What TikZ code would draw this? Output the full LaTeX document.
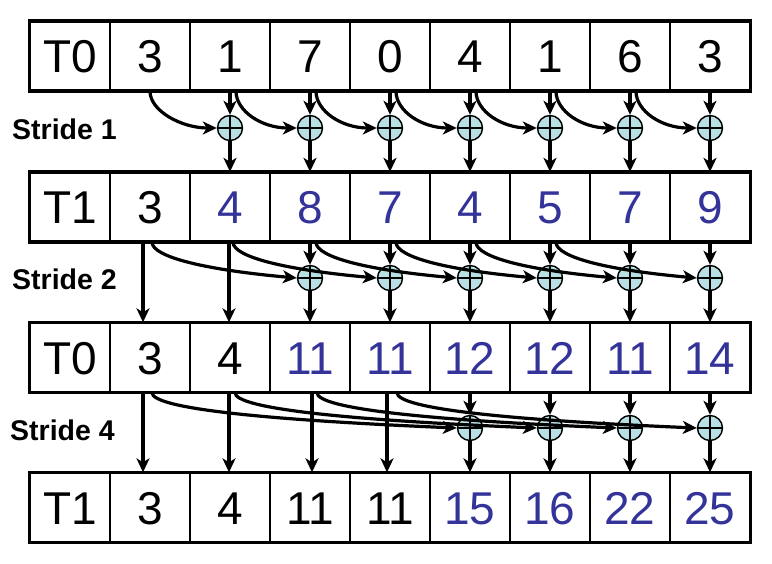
\documentclass[tikz,border=0pt]{standalone}
\usepackage{fontspec}
\setmainfont{Liberation Sans}
\usetikzlibrary{arrows.meta,calc}
\definecolor{numblue}{RGB}{51,51,153}
\definecolor{addfill}{RGB}{184,224,228}
\newcommand\bl[1]{\textcolor{numblue}{#1}}
\tikzset{
  cellbox/.style={draw, line width=1.3pt, minimum width=80pt, minimum height=69pt,
    inner sep=0pt, text height=33pt, text depth=0pt, font=\fontsize{46}{50}\selectfont},
  rowframe/.style={draw, line width=3.5pt},
  adder/.style={circle, draw, line width=1.4pt, fill=addfill, minimum size=25pt, inner sep=0pt,
    path picture={\draw[line width=1.4pt] (path picture bounding box.north) -- (path picture bounding box.south)
      (path picture bounding box.west) -- (path picture bounding box.east);}},
  arr/.style={line width=3.2pt, -{Stealth[length=14pt,width=13pt,inset=4pt]}},
  stridelabel/.style={anchor=west, inner sep=0pt, font=\bfseries\fontsize{28.5}{30}\selectfont}
}
\newcommand\cellrow[3]{%
  \foreach \v [count=\c from 0] in {#3} {
    \node[cellbox] (r#1c\c) at ({70+80*\c},#2) {\v};
  }
  \draw[rowframe] (r#1c0.north west) rectangle (r#1c8.south east);
}
\begin{document}
\begin{tikzpicture}[x=1pt,y=-1pt]
\useasboundingbox (0,0) rectangle (772,563);
% rows
\cellrow{1}{56}{T0,3,1,7,0,4,1,6,3}
\cellrow{2}{207}{T1,3,\bl{4},\bl{8},\bl{7},\bl{4},\bl{5},\bl{7},\bl{9}}
\cellrow{3}{357.5}{T0,3,4,\bl{11},\bl{11},\bl{12},\bl{12},\bl{11},\bl{14}}
\cellrow{4}{507.5}{T1,3,4,11,11,\bl{15},\bl{16},\bl{22},\bl{25}}
% labels
\node[stridelabel] (s1) at (12,129) {Stride 1};
\node[stridelabel] (s2) at (12,279) {Stride 2};
\node[stridelabel] (s4) at (10,430) {Stride 4};
% adders
\foreach \c in {2,...,8} \node[adder] (p1c\c) at ({70+80*\c},128) {};
\foreach \c in {3,...,8} \node[adder] (p2c\c) at ({70+80*\c},278) {};
\foreach \c in {5,...,8} \node[adder] (p4c\c) at ({70+80*\c},428) {};
% stride 1
\foreach \c in {2,...,8} {
  \draw[arr] (r1c\c.south) -- (p1c\c.north);
  \draw[arr] (p1c\c.south) -- (r2c\c.north);
}
\foreach \c/\dx [evaluate=\c as \n using int(\c+1)] in {1/0,2/6,3/6,4/6,5/6,6/6,7/6}
  \draw[arr] ([xshift=\dx pt]r1c\c.south) .. controls +(0,20) and +(-35,0) .. (p1c\n.west);
% stride 2
\foreach \c/\dx in {1/-7,2/-1}
  \draw[arr] ([xshift=\dx pt]r2c\c.south) -- ([xshift=\dx pt]r3c\c.north);
\foreach \c in {3,...,8} {
  \draw[arr] (r2c\c.south) -- (p2c\c.north);
  \draw[arr] (p2c\c.south) -- (r3c\c.north);
}
\foreach \c/\dx [evaluate=\c as \n using int(\c+2)] in {1/2,2/3,3/6,4/6,5/6,6/6}
  \draw[arr] ([xshift=\dx pt]r2c\c.south) .. controls +(0,15) and +(-90,-8) .. (p2c\n.west);
% stride 4
\foreach \c/\dx in {1/-7,2/-1,3/2,4/-3}
  \draw[arr] ([xshift=\dx pt]r3c\c.south) -- ([xshift=\dx pt]r4c\c.north);
\foreach \c in {5,...,8} {
  \draw[arr] (r3c\c.south) -- (p4c\c.north);
  \draw[arr] (p4c\c.south) -- (r4c\c.north);
}
\foreach \c/\dx [evaluate=\c as \n using int(\c+4)] in {1/2,2/5,3/7,4/7}
  \draw[arr] ([xshift=\dx pt]r3c\c.south) .. controls +(0,16) and +(-190,-8) .. (p4c\n.west);
\end{tikzpicture}
\end{document}
